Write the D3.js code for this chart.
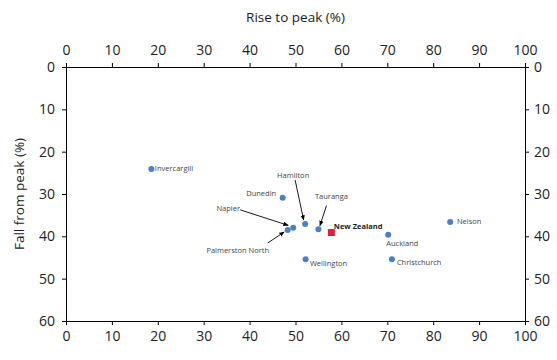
<!DOCTYPE html>
<html><head><meta charset="utf-8">
<script src="https://cdn.jsdelivr.net/npm/d3@7"></script>
<style>body{margin:0;background:#fff}text{font-family:"Open Sans","Noto Sans",sans-serif}</style>
</head><body><svg id="c" width="557" height="360"></svg>
<script>
const cities = ["Invercargill","Dunedin","Hamilton","Napier","Palmerston North","Tauranga","Wellington","Auckland","Nelson","Christchurch"];
const riseToPeak = [18.6,47.2,52.1,49.5,48.3,55.0,52.2,70.2,83.7,71.0];
const fallFromPeak = [24.1,30.9,37.1,38.0,38.5,38.3,45.4,39.6,36.6,45.4];
const nzRise = 57.8, nzFall = 39.1;
const xTicks = [0,10,20,30,40,50,60,70,80,90,100];
const yTicks = [0,10,20,30,40,50,60];

// label placement: [dx, baseline dy, anchor]
const labelCfg = {
  "Invercargill":[3.5,2,"start"],
  "Dunedin":[-6.5,-1.7,"end"],
  "Hamilton":[-12,-46,"middle"],
  "Napier":[-65,-17,"middle"],
  "Palmerston North":[-50,23,"middle"],
  "Tauranga":[13,-30,"middle"],
  "Wellington":[4.3,7,"start"],
  "Auckland":[-2,11,"start"],
  "Nelson":[6.7,2,"start"],
  "Christchurch":[5,6,"start"]
};
const arrowCfg = {
  "Hamilton":[[-10,-44],[-1.5,-4]],
  "Napier":[[-53,-18],[-5,-2.5]],
  "Palmerston North":[[-20,13],[-3.5,2]],
  "Tauranga":[[8,-23.5],[1.5,-3.5]]
};

const svg = d3.select("#c");
const m = {l:66,r:32,t:67,b:39};
const W=557,H=360;
const x = d3.scaleLinear().domain([0,100]).range([m.l,W-m.r]);
const y = d3.scaleLinear().domain([0,60]).range([m.t,H-m.b]);

svg.append("defs").append("marker").attr("id","ah").attr("viewBox","0 0 10 10")
 .attr("refX",9).attr("refY",5).attr("markerWidth",6).attr("markerHeight",6).attr("orient","auto")
 .append("path").attr("d","M0,1 L10,5 L0,9 Z").attr("fill","#000");

function styleAxis(g){
  g.select(".domain").attr("stroke","#000").attr("stroke-width",1);
  g.selectAll(".tick line").attr("stroke","#000");
  g.selectAll(".tick text").attr("font-size",14).attr("fill","#222");
}
svg.append("g").attr("transform",`translate(0,${m.t})`)
 .call(d3.axisTop(x).tickValues(xTicks).tickSize(4).tickSizeOuter(0).tickPadding(8)).call(styleAxis);
svg.append("g").attr("transform",`translate(0,${H-m.b})`)
 .call(d3.axisBottom(x).tickValues(xTicks).tickSize(4).tickSizeOuter(0).tickPadding(6)).call(styleAxis);
svg.append("g").attr("transform",`translate(${m.l},0)`)
 .call(d3.axisLeft(y).tickValues(yTicks).tickSize(4).tickSizeOuter(0).tickPadding(7)).call(styleAxis);
svg.append("g").attr("transform",`translate(${W-m.r},0)`)
 .call(d3.axisRight(y).tickValues(yTicks).tickSize(4).tickSizeOuter(0).tickPadding(5)).call(styleAxis);

svg.append("text").attr("x",x(50)).attr("y",22).attr("text-anchor","middle")
 .attr("font-size",13.5).attr("fill","#222").text("Rise to peak (%)");
svg.append("text").attr("transform",`translate(23.5,${y(30)}) rotate(-90)`).attr("text-anchor","middle")
 .attr("font-size",13.5).attr("fill","#222").text("Fall from peak (%)");

const pts = cities.map((c,i)=>({c, px:x(riseToPeak[i]), py:y(fallFromPeak[i])}));
svg.append("g").selectAll("circle").data(pts).join("circle")
 .attr("cx",d=>d.px).attr("cy",d=>d.py).attr("r",3).attr("fill","#4a80c8");

svg.append("g").selectAll("text").data(pts).join("text")
 .attr("x",d=>d.px+labelCfg[d.c][0]).attr("y",d=>d.py+labelCfg[d.c][1])
 .attr("text-anchor",d=>labelCfg[d.c][2]).attr("font-size",7.5).attr("fill","#444").text(d=>d.c);

svg.append("g").selectAll("line").data(pts.filter(d=>arrowCfg[d.c])).join("line")
 .attr("x1",d=>d.px+arrowCfg[d.c][0][0]).attr("y1",d=>d.py+arrowCfg[d.c][0][1])
 .attr("x2",d=>d.px+arrowCfg[d.c][1][0]).attr("y2",d=>d.py+arrowCfg[d.c][1][1])
 .attr("stroke","#000").attr("stroke-width",0.9).attr("marker-end","url(#ah)");

svg.append("rect").attr("x",x(nzRise)-3.5).attr("y",y(nzFall)-3.5).attr("width",7).attr("height",7).attr("fill","#e01f3d");
svg.append("text").attr("x",x(nzRise)+2.5).attr("y",y(nzFall)-4).attr("font-size",7.5).attr("font-weight","bold").attr("fill","#222").text("New Zealand");
</script></body></html>
